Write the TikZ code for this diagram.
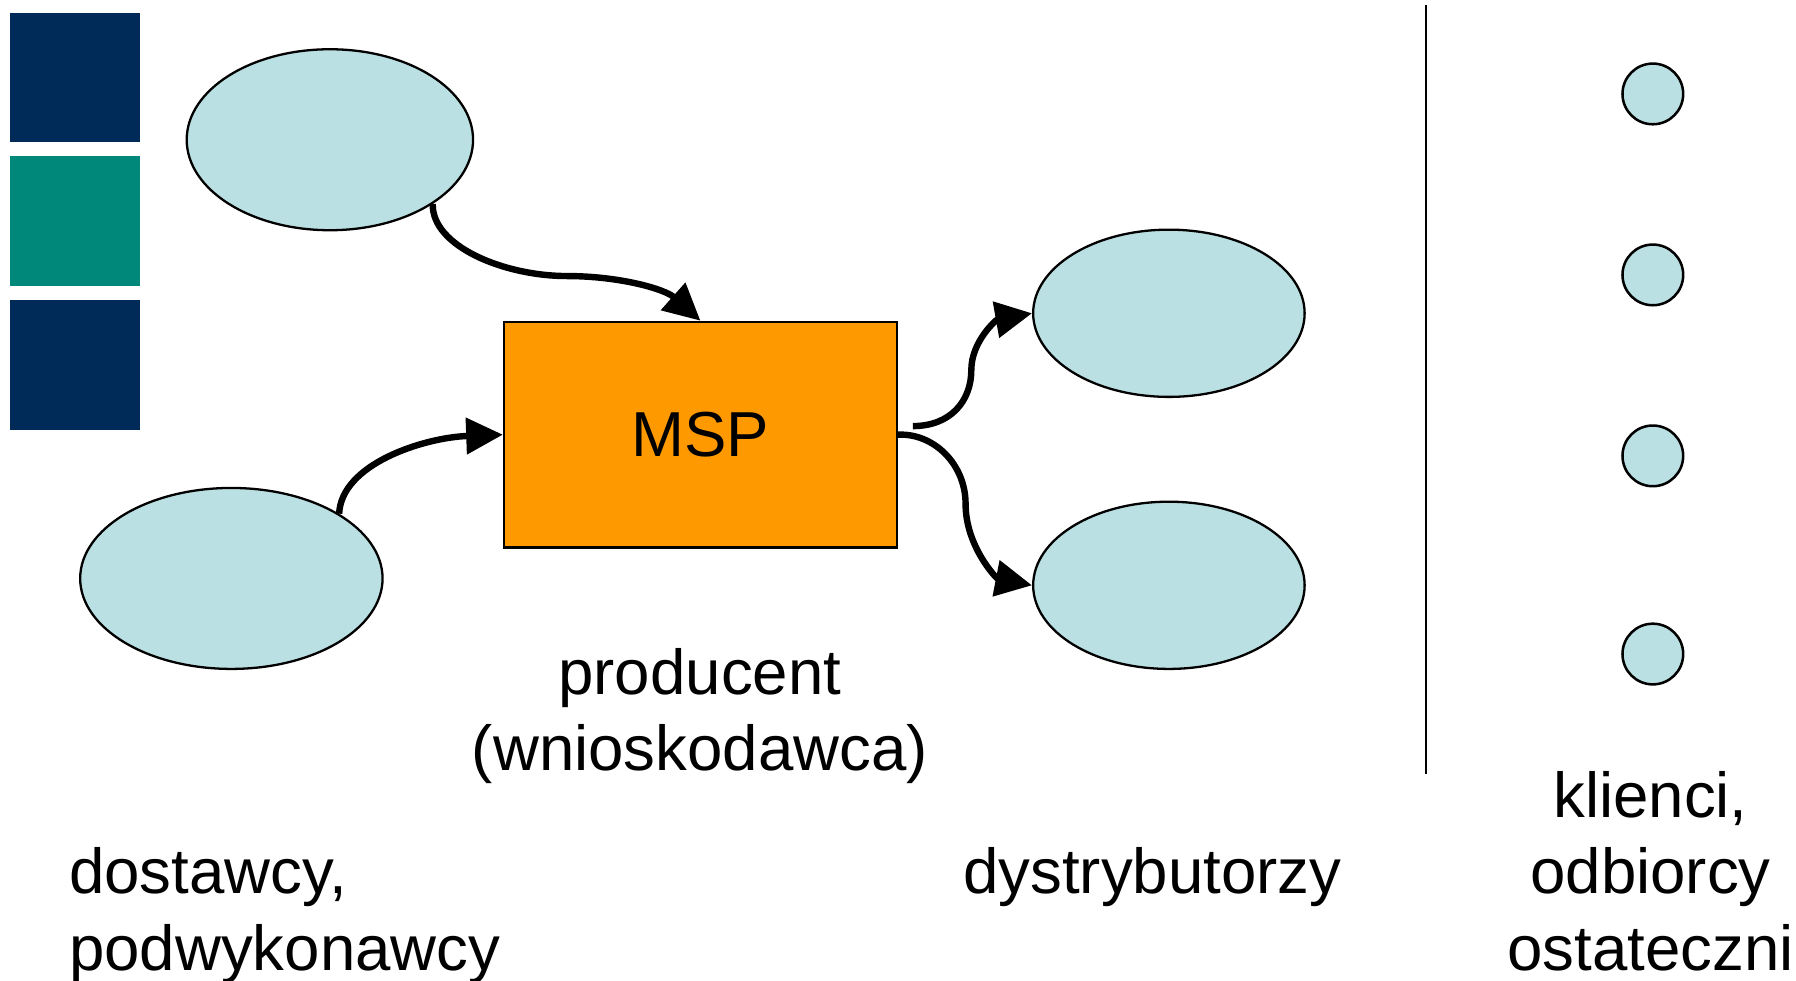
\documentclass[tikz,border=0pt]{standalone}
\usepackage{fontspec}
\setmainfont{Liberation Sans}
\usetikzlibrary{shapes.geometric,arrows.meta}
\definecolor{navy}{HTML}{002B59}
\definecolor{teal2}{HTML}{00887A}
\definecolor{pale}{HTML}{BAE0E3}
\definecolor{orng}{HTML}{FF9900}
\begin{document}
\begin{tikzpicture}[x=0.5pt,y=-0.5pt,
  blob/.style={ellipse,draw=black,line width=1pt,fill=pale,inner sep=0pt},
  dot/.style={circle,draw=black,line width=1.1pt,fill=pale,minimum size=26.5pt,inner sep=0pt},
  sq/.style={rectangle,inner sep=0pt,minimum width=56.5pt,minimum height=56.5pt},
  flow/.style={line width=2.8pt,-{Triangle[length=16pt,width=15.5pt]}},
  lbl/.style={inner sep=0pt,font=\fontsize{27.75}{33.3}\selectfont}]
\useasboundingbox (0,0) rectangle (1568,856);
% side squares
\node[sq,fill=navy] (q1) at (65.5,67.5) {};
\node[sq,fill=teal2] (q2) at (65.5,193) {};
\node[sq,fill=navy] (q3) at (65.5,318.5) {};
% suppliers
\node[blob,minimum width=125pt,minimum height=79pt] (e1) at (288,122) {};
\node[blob,minimum width=132pt,minimum height=79pt] (s2) at (202,505) {};
% producer
\node[lbl,draw=black,line width=1pt,fill=orng,minimum width=171.5pt,minimum height=98.5pt] (msp) at (611.5,379.5) {MSP};
% distributors
\node[blob,minimum width=118.5pt,minimum height=73pt] (d1) at (1020.5,273.5) {};
\node[blob,minimum width=118.5pt,minimum height=73pt] (d2) at (1020.5,511) {};
% clients
\node[dot] (c1) at (1443,82) {};
\node[dot] (c2) at (1443,240) {};
\node[dot] (c3) at (1443,398) {};
\node[dot] (c4) at (1443,571) {};
% divider
\coordinate (divtop) at (1245,4);
\coordinate (divbot) at (1245,676);
\draw[line width=1.1pt] (divtop) -- (divbot);
% connectors
\draw[flow] (e1.-32) .. controls (377,215) and (440,241) .. (495,241) .. controls (540,241) and (580,252) .. (msp.north);
\draw[flow] (s2.31.5) .. controls (298,405) and (370,382) .. (msp.west);
\coordinate (split) at (797,372);
\draw[flow] (split) .. controls (830,372) and (848,350) .. (848,323) .. controls (848,298) and (870,279) .. (d1.west);
\draw[flow] (msp.east) .. controls (815,378) and (843,405) .. (843,440) .. controls (843,477) and (870,505) .. (d2.west);
% labels (base anchor of a multi-line node is the last line's baseline)
\node[lbl,anchor=base,align=center] (prod) at (611,673) {producent\\(wnioskodawca)};
\node[lbl,anchor=base west,align=left] (dost) at (60,847) {dostawcy,\\podwykonawcy};
\node[lbl,anchor=base] (dyst) at (1006,780) {dystrybutorzy};
\node[lbl,anchor=base,align=center] (kli) at (1441,847) {klienci,\\odbiorcy\\ostateczni};
\end{tikzpicture}
\end{document}
